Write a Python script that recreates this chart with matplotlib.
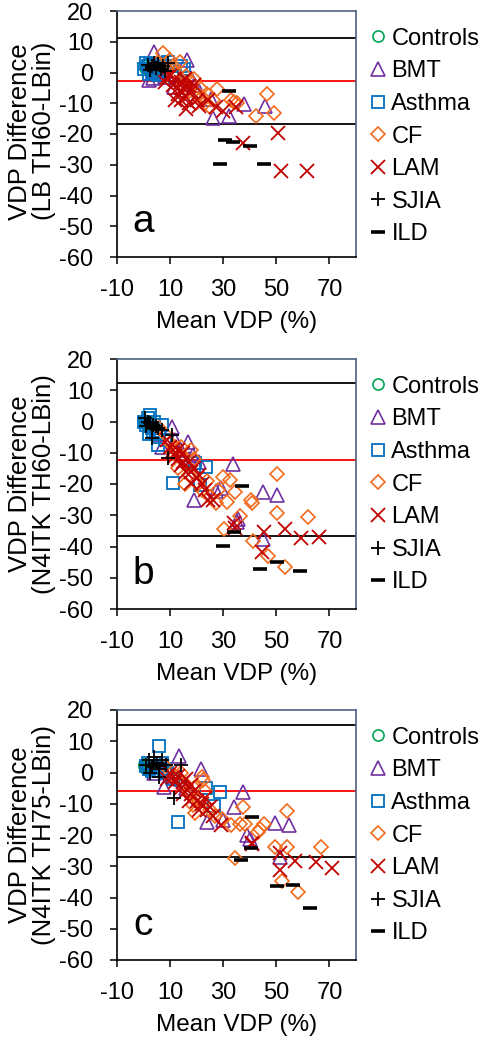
import numpy as np
import matplotlib
matplotlib.use('Agg')
import matplotlib.pyplot as plt
from matplotlib.lines import Line2D

plt.rcParams['font.family'] = ['Liberation Sans', 'DejaVu Sans']
plt.rcParams['axes.unicode_minus'] = False

# ==========================================
# data: (mean VDP, VDP difference) per group and panel
# ==========================================
GROUPS = ['Controls', 'BMT', 'Asthma', 'CF', 'LAM', 'SJIA', 'ILD']

# --- panel a (LB TH60-LBin)
a_controls = [(0.5, 1.5), (1, 2.5), (1.5, 1), (2, 2), (2.5, 0.5), (3, 1.8), (1.8, 3), (2.2, 0.8),
              (1, 1), (3.5, 2.5)]
a_bmt = [(4.1, 6.7), (16.4, 4.2), (37.8, -10.2), (45.6, -11.0), (26.3, -14.9), (32.1, -14.3),
         (25.5, -8.5), (3.5, -1.9), (11.5, -4.7), (17.7, -1.7), (14, -2), (21, -6), (8, 0.5),
         (19, -4), (7.9, -1.5), (2.2, -2.5)]
a_asthma = [(0, 1), (1.5, 2), (3, 0.5), (4.5, 2.8), (6, 1.5), (7.5, 0.5), (9.1, 3.4), (15.4, 1.3),
            (12, -1), (2, -0.5), (5.5, -0.8), (14, 2), (1, 3), (2.5, 2.5), (4, 1), (6.5, 3),
            (8, 2), (3.5, -0.2)]
a_cf = [(46.5, -6.9), (49, -13.2), (42.2, -14.3), (27.7, -5.5), (33, -8.9), (34, -9.5), (19.8, -10),
        (25, -11.3), (21.7, -5.3), (7.2, 6.2), (13.8, 3.4), (10, 4), (16, -1), (18, -3), (20, -7),
        (22, -8), (24, -7), (12, 0), (15, -4), (9, 1), (17, -6), (35, -10), (11, 2), (14, -2),
        (19, -2), (23, -10), (26, -9), (5, 3)]
a_lam = [(50.6, -19.8), (51.6, -32), (61.7, -32), (37.4, -23), (29.9, -12.4), (34.9, -11.3),
         (27.4, -11.3), (24.2, -9.1), (10, -1), (12, -2), (14, -3), (15, -5), (13, -7), (16, -8),
         (18, -6), (11, -4), (8, -3), (20, -9), (17, -10), (14.2, -9.1), (19, -4), (12, -9),
         (13, -5), (15.5, -2), (17, -4.5), (9, -1.5), (21, -11), (16, -12)]
a_sjia = [(1.6, 2.5), (3, 2), (4.5, 1.5), (5.5, 2.8), (6.5, 1.2), (7.5, 2), (9.1, 3), (2.5, 0.8),
          (8, 0.5), (4, 3.2)]
a_ild = [(32.1, -6.1), (30.5, -21.9), (33.7, -22.7), (39.9, -23.8), (28.6, -29.8), (45.3, -29.8),
         (3, 1.5), (5, 2)]

# --- panel b (N4ITK TH60-LBin)
b_controls = [(0, 0), (0.5, -0.5), (1, 0.2), (1.5, -1), (0.8, -0.3), (2, 0), (1.2, -1.5), (0.3, 0.5)]
b_bmt = [(33.6, -13.6), (45, -22.6), (50.4, -23.6), (19, -25.1), (27.4, -22.2), (29.2, -21.3),
         (35.5, -31.2), (45, -37.6), (10.6, -1.6), (16.8, -6.4), (6.8, -8), (18.7, -10.7),
         (14, -9), (17, -12), (35, -32), (21, -13), (12, -6), (6, -4)]
b_asthma = [(2.5, 2.1), (23.6, -14.4), (11.2, -19.7), (21.2, -20.3), (19.3, -13.3), (0, 0), (1, -1),
            (3, -2), (4, 0), (5.6, -7.5), (6, -5), (7, -1), (2, -4), (8, -6), (1.5, 1),
            (3.5, -3), (4.5, -4), (2, -1.5)]
b_cf = [(50.4, -16.8), (50.2, -29.3), (61.9, -30.4), (53.1, -46.7), (46.9, -43), (41.3, -38.2),
        (30.2, -34.3), (29.9, -17.8), (32.6, -18.8), (34.5, -22.6), (31.3, -25.6), (40.4, -25.2),
        (41, -26.1), (36.4, -30.2), (27.4, -26.1), (20.5, -20), (15.5, -19.9), (12, -8), (14, -11),
        (16, -14), (18, -9), (13, -15), (17, -17), (10, -7), (6, -2), (8, -4), (22, -22), (25, -24),
        (11, -10), (14, -8), (19, -12), (24, -19), (28, -22)]
b_lam = [(45.4, -35.5), (53.1, -34.3), (59.4, -37.3), (66, -37), (44.5, -41.6), (34.2, -32.5),
         (24.2, -25), (26.1, -25), (18, -19.7), (9, -6), (11, -9), (13, -12), (15, -10), (14, -14),
         (16, -16), (17, -13), (12, -11), (20, -18), (22, -20), (19, -15), (34.6, -34),
         (10, -8), (13, -9), (15, -13), (18, -16), (21, -17), (23, -22)]
b_sjia = [(0.6, 1), (1.5, 0), (2.5, -0.5), (3.5, -1), (4.5, -1.5), (5.5, -2), (6.8, -2.6),
          (10.8, -4.2), (9.3, -11.7), (3, -5.3), (1, -1.5)]
b_ild = [(36.9, -20.6), (34, -35.4), (30.1, -39.7), (43.8, -47.2), (50.4, -45.1), (58.9, -47.7),
         (3, -2), (5, -2.5)]

# --- panel c (N4ITK TH75-LBin)
c_controls = [(0, 2), (0.5, 1.5), (1, 2.5), (1.5, 1), (2, 2), (2.5, 1.8), (1, 1.2), (0.2, 2.8)]
c_bmt = [(37.3, -6.1), (49.5, -16.3), (54.9, -16.7), (34, -11), (24, -15.8), (29.8, -15.3),
         (40.2, -21.2), (51.4, -27.1), (13.4, 5.2), (21.5, 1.1), (7.8, -4.5), (4, 0), (14, -2),
         (16, -5), (39, -20), (11, -1)]
c_asthma = [(6, 8.4), (13, -15.8), (28.6, -6.1), (26.5, -10.8), (23.6, -5), (1, 2), (3, 0.5),
            (5, 1.5), (7, 3), (9, 0), (4, 3), (11, -2), (2, 1), (1.5, 3), (3.5, 2), (6, 2), (8, 1)]
c_cf = [(53.9, -12.4), (53.9, -23.9), (49.5, -23.9), (67, -23.7), (52, -34.6), (58.2, -38.2),
        (34.6, -27.4), (37.3, -11), (36.5, -16.6), (38.3, -16.6), (44, -18), (45.5, -16.5),
        (43, -19), (33, -16.9), (29.6, -15), (18.8, -10.4), (19.3, -13.1), (22.1, -1.3),
        (22.5, -2.4), (15, -3), (17, -6), (20, -8), (12, -1), (25, -12), (8, 2), (21, -9),
        (14, 0), (16, -4), (19, -5), (23, -6), (27, -14)]
c_lam = [(51.4, -25.8), (51.4, -31.2), (57.2, -28.4), (64.8, -28.7), (71.1, -30.5), (40.8, -22.6),
         (29, -16.9), (20.9, -12), (10, 0), (12, -3), (14, -5), (16, -2), (18, -4), (15, -7),
         (17, -9), (19, -6), (13, -1), (22, -10), (24, -12), (26, -14), (9, -2), (41, -23),
         (11, -1.5), (15, -3), (18, -7), (20, -9), (23, -8), (25, -11)]
c_sjia = [(1, 2.5), (2, 4), (3, 2), (4, 5), (5, 3), (6, 1), (7, 4), (8.4, 2.5), (11.5, -8.3),
          (14, 2.5), (2.5, 0), (6, -1.3)]
c_ild = [(41, -14.2), (40.4, -24.1), (36.8, -28), (50.4, -36.2), (56.1, -35.9), (62.6, -43.2),
         (4, 2), (6, 2.5)]

# limits of agreement and bias
upper_loa = [11.3, 12.3, 15.2]
bias = [-2.7, -12.2, -5.9]
lower_loa = [-16.7, -36.6, -27.0]

panel_letters = ['a', 'b', 'c']
ylabels = ['VDP Difference\n(LB TH60-LBin)',
           'VDP Difference\n(N4ITK TH60-LBin)',
           'VDP Difference\n(N4ITK TH75-LBin)']

panels = [
    [a_controls, a_bmt, a_asthma, a_cf, a_lam, a_sjia, a_ild],
    [b_controls, b_bmt, b_asthma, b_cf, b_lam, b_sjia, b_ild],
    [c_controls, c_bmt, c_asthma, c_cf, c_lam, c_sjia, c_ild],
]

# ==========================================
# styles
# ==========================================
STYLE = {
    'Controls': dict(marker='o', ms=8, mfc='none', mec='#00a651', mew=1.2),
    'BMT': dict(marker='^', ms=10, mfc='none', mec='#7030a0', mew=1.2),
    'Asthma': dict(marker='s', ms=8, mfc='none', mec='#0070c0', mew=1.3),
    'CF': dict(marker='D', ms=7, mfc='none', mec='#f26b1d', mew=1.2),
    'LAM': dict(marker='x', ms=9.5, mec='#c00000', mew=1.3),
    'SJIA': dict(marker='+', ms=9.5, mec='black', mew=1.3),
    'ILD': dict(marker='_', ms=10, mec='black', mew=2.6),
}
FRAME = '#4f6180'

fig = plt.figure(figsize=(4.87, 10.38), dpi=100)
W, H = 487.0, 1038.0
# axes boxes in pixels (left, top, right, bottom)
boxes = [(117, 11, 356, 257), (117, 359, 356, 609), (117, 710, 356, 960)]

for i, (l, t, r, b) in enumerate(boxes):
    ax = fig.add_axes([l / W, 1 - b / H, (r - l) / W, (b - t) / H])

    ax.axhline(upper_loa[i], color='black', lw=1.3, zorder=1)
    ax.axhline(lower_loa[i], color='black', lw=1.3, zorder=1)
    ax.axhline(bias[i], color='#ff0000', lw=1.3, zorder=1)

    for g, pts in zip(GROUPS, panels[i]):
        arr = np.array(pts)
        ax.plot(arr[:, 0], arr[:, 1], ls='none', label=g, zorder=3, **STYLE[g])

    ax.set_xlim(-10, 80)
    ax.set_ylim(-60, 20)
    ax.set_xticks([-10, 10, 30, 50, 70])
    ax.set_yticks(np.arange(-60, 21, 10))
    ax.tick_params(labelsize=17, length=5, width=1.1, direction='out')
    ax.tick_params(axis='y', pad=12)
    ax.tick_params(axis='x', pad=11)
    for s in ['left', 'bottom']:
        ax.spines[s].set_color('black')
        ax.spines[s].set_linewidth(1.2)
    for s in ['top', 'right']:
        ax.spines[s].set_color(FRAME)
        ax.spines[s].set_linewidth(1.2)

    ax.set_xlabel('Mean VDP (%)', fontsize=17.5, labelpad=7)
    ax.text(0, -52, panel_letters[i], fontsize=28, ha='center', va='baseline')

    handles = [Line2D([], [], ls='none', **STYLE[g]) for g in GROUPS]
    ax.legend(handles, GROUPS, loc='upper left', bbox_to_anchor=(1.005, 0.99),
              frameon=False, fontsize=17, handlelength=0.6, handletextpad=0.25,
              labelspacing=0.45, borderaxespad=0.3, borderpad=0.3)

# y labels
fig.text(32 / W, 1 - 220 / H, ylabels[0], rotation=90, fontsize=18.5, ha='center',
         va='bottom', multialignment='left', linespacing=0.95)
fig.text(32 / W, 1 - 484 / H, ylabels[1], rotation=90, fontsize=18.5, ha='center',
         va='center', multialignment='center', linespacing=0.95)
fig.text(32 / W, 1 - 835 / H, ylabels[2], rotation=90, fontsize=18.5, ha='center',
         va='center', multialignment='center', linespacing=0.95)

fig.savefig('out.png', dpi=100)
